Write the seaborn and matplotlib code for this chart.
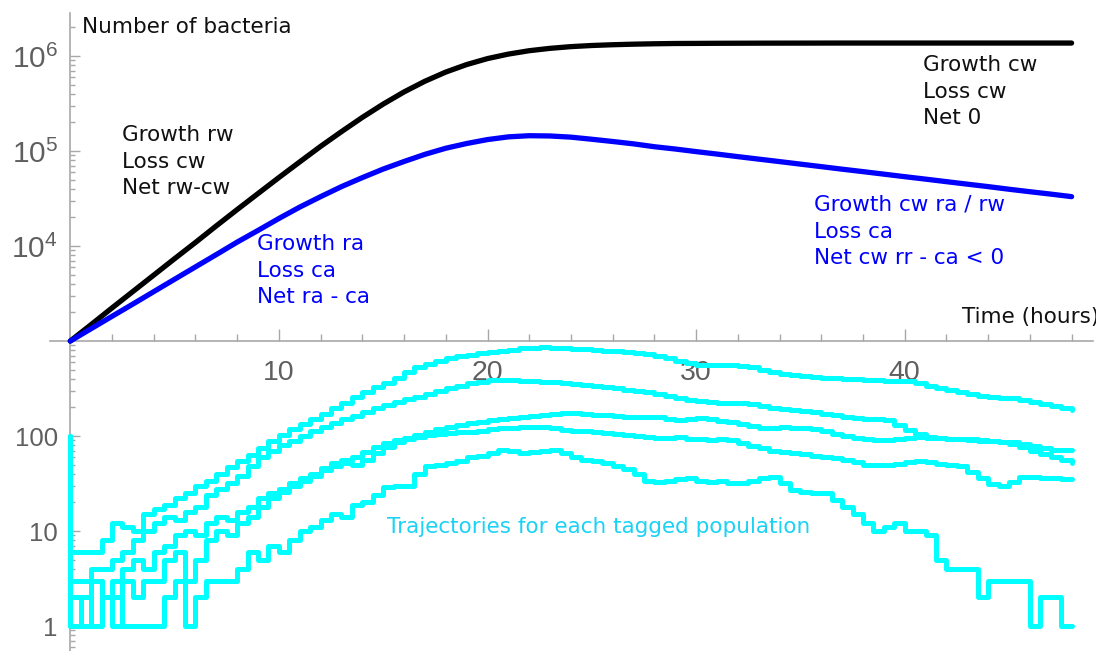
import numpy as np
import matplotlib
matplotlib.use("Agg")
import matplotlib.pyplot as plt
import matplotlib.ticker as mticker
import seaborn as sns

# deterministic model, read every hour
t_model = list(range(49))
wild = [1000, 1490, 2230, 3320, 4940, 7360, 10900, 16300, 24200, 35700,
        52600, 76900, 112000, 160000, 226000, 312000, 419000, 543000,
        678000, 813000, 940000, 1048000, 1138000, 1205000, 1256000,
        1291000, 1315000, 1333000, 1346000, 1355000, 1358000, 1362000,
        1364000, 1366000, 1367000, 1368000, 1369000, 1370000, 1370000,
        1370000, 1370000, 1370000, 1370000, 1370000, 1370000, 1370000,
        1370000, 1370000, 1370000]
resistant = [1000, 1350, 1820, 2450, 3310, 4470, 6030, 8130, 11000, 14600,
             19500, 25700, 33100, 42200, 52500, 64600, 77600, 92300, 107000,
             120000, 132000, 141000, 145000, 144000, 140000, 133000, 126000,
             119000, 111000, 105000, 98600, 92900, 87300, 82200, 77400,
             72800, 68500, 64400, 60700, 57100, 53700, 50600, 47600, 44800,
             42200, 39600, 37300, 35200, 33100]

# tagged sub-populations, read every half hour from t=0 to t=48
tag_start = 100
t_tag = [i / 2 for i in range(97)]
traj_a = [6, 6, 6, 8, 12, 11, 10, 15, 17, 19,
          22, 25, 30, 34, 40, 47, 55, 63, 74, 88,
          102, 118, 135, 152, 170, 195, 225, 255, 290, 325,
          360, 410, 470, 530, 575, 620, 665, 700, 720, 740,
          760, 785, 810, 835, 850, 855, 845, 840, 830, 815,
          800, 790, 780, 765, 750, 730, 700, 660, 620, 590,
          565, 560, 555, 555, 550, 530, 500, 475, 455, 440,
          428, 418, 410, 405, 400, 395, 390, 385, 382, 378,
          375, 360, 340, 320, 305, 290, 275, 265, 258, 252,
          250, 240, 230, 218, 205, 195, 186]
traj_b = [3, 3, 4, 4, 5, 6, 8, 10, 12, 14,
          13, 16, 18, 24, 28, 32, 38, 48, 60, 70,
          80, 88, 100, 112, 125, 138, 150, 162, 178, 195,
          212, 230, 245, 260, 280, 300, 320, 340, 358, 372,
          385, 392, 388, 380, 375, 372, 368, 362, 355, 348,
          340, 330, 318, 308, 300, 290, 278, 265, 252, 242,
          235, 228, 224, 222, 220, 215, 205, 198, 192, 188,
          184, 178, 172, 165, 160, 156, 152, 150, 146, 132,
          115, 105, 98, 95, 94, 93, 92, 90, 88, 86,
          82, 76, 70, 65, 60, 56, 52]
traj_c = [1, 2, 3, 2, 3, 4, 5, 4, 6, 7,
          9, 10, 9, 12, 14, 13, 16, 18, 22, 25,
          28, 32, 36, 40, 46, 52, 56, 60, 68, 76,
          84, 90, 96, 103, 110, 118, 125, 132, 137, 142,
          148, 152, 156, 160, 163, 166, 170, 173, 174, 172,
          168, 165, 162, 160, 158, 158, 157, 152, 148, 152,
          155, 150, 145, 140, 135, 128, 122, 121, 124, 122,
          121, 118, 112, 106, 100, 95, 92, 90, 91, 94,
          96, 97, 96, 95, 94, 92, 90, 89, 88, 87,
          86, 82, 78, 74, 72, 71, 71]
traj_d = [2, 1, 3, 2, 1, 3, 2, 3, 3, 5,
          6, 3, 5, 8, 10, 9, 12, 14, 18, 22,
          26, 30, 34, 38, 44, 48, 52, 50, 56, 66,
          76, 86, 92, 98, 102, 105, 108, 110, 111, 114,
          118, 120, 122, 124, 125, 124, 120, 116, 114, 112,
          110, 107, 104, 102, 100, 98, 96, 95, 97, 94,
          92, 91, 93, 91, 85, 78, 74, 70, 68, 66,
          64, 62, 60, 58, 56, 53, 50, 49, 49, 51,
          53, 54, 53, 51, 49, 48, 42, 36, 31, 30,
          33, 37, 37, 36, 36, 35, 35]
traj_e = [1, 2, 1, 2, 2, 1, 1, 1, 1, 2,
          3, 1, 2, 3, 3, 3, 4, 6, 5, 7,
          6, 8, 10, 11, 13, 15, 14, 19, 20, 24,
          29, 30, 30, 40, 48, 50, 52, 55, 60, 62,
          66, 72, 70, 66, 68, 70, 71, 66, 60, 56,
          54, 52, 48, 45, 40, 34, 33, 34, 35, 36,
          34, 33, 34, 32, 32, 34, 36, 37, 32, 27,
          26, 25, 25, 21, 18, 15, 12, 10, 11, 12,
          10, 10, 9, 5, 4, 4, 4, 2, 3, 3,
          3, 3, 1, 2, 2, 1, 1]
tagged = [traj_a, traj_b, traj_c, traj_d, traj_e]

x_ticks = [10, 20, 30, 40]
x_tick_labels = ["10", "20", "30", "40"]
x_minor = [2, 4, 6, 8, 12, 14, 16, 18, 22, 24, 26, 28,
           32, 34, 36, 38, 42, 44, 46, 48]
y_ticks = [1, 10, 100, 1e4, 1e5, 1e6]
y_tick_labels = ["1", "10", "100", r"$10^{4}$", r"$10^{5}$", r"$10^{6}$"]

W, H = 1113, 651


def fxy(px, py):
    # pixel position -> figure fraction
    return px / W, 1 - py / H


sns.set_style("ticks")
plt.rcParams["font.family"] = ["DejaVu Sans"]
plt.rcParams["mathtext.default"] = "regular"

fig = plt.figure(figsize=(W / 100, H / 100), dpi=100)
ax = fig.add_axes([50 / W, 0, (1096 - 50) / W, (651 - 13) / H])
ax.set_yscale("log")

sns.lineplot(x=t_model, y=wild, color="black", lw=3.8, ax=ax,
             estimator=None, sort=False, zorder=4)
sns.lineplot(x=t_model, y=resistant, color="#0000ff", lw=3.8, ax=ax,
             estimator=None, sort=False, zorder=5)
for vals in tagged:
    sns.lineplot(x=[0.0] + t_tag, y=[tag_start] + vals, color="#00ffff",
                 lw=3.6, drawstyle="steps-post", ax=ax,
                 estimator=None, sort=False, zorder=3)

ax.set_xlim(-0.973, 49.17)
ax.set_ylim(10 ** -0.263, 10 ** 6.453)
ax.set_xlabel("")
ax.set_ylabel("")

gray = "#a8a8a8"
lab_gray = "#5f5f5f"
for s in ["top", "right"]:
    ax.spines[s].set_visible(False)
ax.spines["left"].set_position(("data", 0))
ax.spines["bottom"].set_position(("data", 1000))
ax.spines["bottom"].set_bounds(-0.973, 49.03)
for s in ["left", "bottom"]:
    ax.spines[s].set_color(gray)
    ax.spines[s].set_linewidth(1.2)

ax.set_xticks(x_ticks, x_tick_labels)
ax.set_xticks(x_minor, minor=True)
ax.set_yticks(y_ticks, y_tick_labels)
ax.yaxis.set_minor_locator(mticker.LogLocator(base=10, subs=np.arange(2, 10), numticks=40))
ax.yaxis.set_minor_formatter(mticker.NullFormatter())

ax.tick_params(axis="x", which="major", direction="in", length=8.5, width=1,
               color=gray, pad=13.5, labelsize=20.5, labelcolor=lab_gray,
               bottom=True)
ax.tick_params(axis="x", which="minor", direction="in", length=5, width=1,
               color=gray, bottom=True)
ax.tick_params(axis="y", which="major", direction="in", length=7, width=1,
               color=gray, pad=9, labelcolor=lab_gray, left=True)
ax.tick_params(axis="y", which="minor", direction="in", length=3.6, width=1,
               color=gray, left=True)

for lab in ax.get_xticklabels():
    lab.set_family("Liberation Sans")
for lab, v in zip(ax.get_yticklabels(), y_ticks):
    lab.set_family("Liberation Sans")
    lab.set_fontsize(21.5 if v > 1000 else 18.5)

fs = 15.5
ls = 1.42
ax.text(*fxy(82, 17), "Number of bacteria", transform=fig.transFigure,
        ha="left", va="top", fontsize=fs, color="#111111")
ax.text(*fxy(122, 125), "Growth rw\nLoss cw\nNet rw-cw", transform=fig.transFigure,
        ha="left", va="top", fontsize=fs, color="#111111", linespacing=ls)
ax.text(*fxy(257, 234), "Growth ra\nLoss ca\nNet ra - ca", transform=fig.transFigure,
        ha="left", va="top", fontsize=fs, color="#0000ff", linespacing=ls)
ax.text(*fxy(923, 55), "Growth cw\nLoss cw\nNet 0", transform=fig.transFigure,
        ha="left", va="top", fontsize=fs, color="#111111", linespacing=ls)
ax.text(*fxy(814, 195), "Growth cw ra / rw\nLoss ca\nNet cw rr - ca < 0",
        transform=fig.transFigure, ha="left", va="top", fontsize=fs,
        color="#0000ff", linespacing=ls)
ax.text(*fxy(962, 307), "Time (hours)", transform=fig.transFigure,
        ha="left", va="top", fontsize=fs, color="#111111", clip_on=True)
ax.text(*fxy(387, 517), "Trajectories for each tagged population",
        transform=fig.transFigure, ha="left", va="top", fontsize=fs,
        color="#1ad2f5")

fig.savefig("out.png", dpi=100)
